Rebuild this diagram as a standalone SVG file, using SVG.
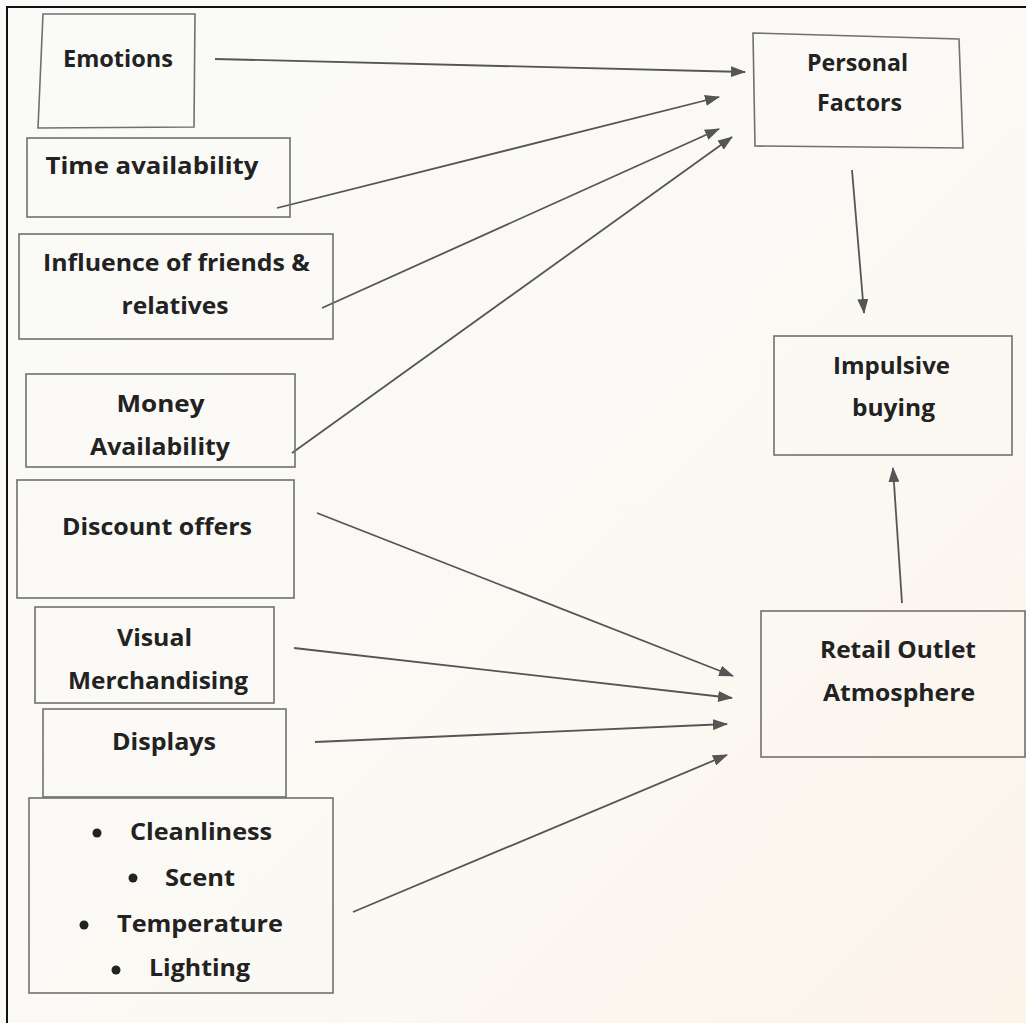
<svg xmlns="http://www.w3.org/2000/svg" width="1026" height="1023" viewBox="0 0 1026 1023">
  <defs>
    <linearGradient id="paper" x1="0" y1="0" x2="1" y2="1">
      <stop offset="0" stop-color="#fafaf8"/>
      <stop offset="0.6" stop-color="#fbf9f4"/>
      <stop offset="1" stop-color="#fcf3e9"/>
    </linearGradient>
    <marker id="head" markerUnits="userSpaceOnUse" markerWidth="15" markerHeight="11" refX="14" refY="5.5" orient="auto">
      <path d="M0,0 L15,5.5 L0,11 Z" fill="#555"/>
    </marker>
    <style>
      .box { fill: none; stroke: #707070; stroke-width: 1.6; }
      .lbl { font-family: "Open Sans", Lato, "Liberation Sans", sans-serif; font-weight: 700; font-size: 24px; fill: #222; text-anchor: middle; }
      .link { stroke: #555; stroke-width: 1.8; fill: none; marker-end: url(#head); }
      .dot { fill: #222; }
    </style>
  </defs>

  <!-- page -->
  <rect x="0" y="0" width="1026" height="1023" fill="url(#paper)"/>
  <path d="M7,1023 V7 H1026" fill="none" stroke="#111" stroke-width="2"/>

  <!-- connectors -->
  <g id="connectors">
    <line class="link" x1="215" y1="59" x2="745" y2="72"/>
    <line class="link" x1="277" y1="208" x2="719" y2="97"/>
    <line class="link" x1="322" y1="308" x2="719" y2="129"/>
    <line class="link" x1="292" y1="453" x2="732" y2="137"/>
    <line class="link" x1="852" y1="170" x2="864" y2="313"/>
    <line class="link" x1="902" y1="603" x2="893" y2="468"/>
    <line class="link" x1="317" y1="513" x2="733" y2="676"/>
    <line class="link" x1="294" y1="648" x2="732" y2="698"/>
    <line class="link" x1="315" y1="742" x2="727" y2="724"/>
    <line class="link" x1="353" y1="912" x2="727" y2="755"/>
  </g>

  <!-- left column -->
  <g id="emotions">
    <path class="box" d="M43,14 L195,14 L194,127 L38,128 Z"/>
    <text class="lbl" x="118" y="67" textLength="110" lengthAdjust="spacingAndGlyphs">Emotions</text>
  </g>

  <g id="time-availability">
    <rect class="box" x="27" y="138" width="263" height="79"/>
    <text class="lbl" x="152" y="174" textLength="213" lengthAdjust="spacingAndGlyphs">Time availability</text>
  </g>

  <g id="influence">
    <rect class="box" x="19" y="234" width="314" height="105"/>
    <text class="lbl" x="176.5" y="271" textLength="267" lengthAdjust="spacingAndGlyphs">Influence of friends &amp;</text>
    <text class="lbl" x="175" y="314" textLength="107" lengthAdjust="spacingAndGlyphs">relatives</text>
  </g>

  <g id="money-availability">
    <rect class="box" x="26" y="374" width="269" height="93"/>
    <text class="lbl" x="160.5" y="412" textLength="88" lengthAdjust="spacingAndGlyphs">Money</text>
    <text class="lbl" x="160" y="455" textLength="140" lengthAdjust="spacingAndGlyphs">Availability</text>
  </g>

  <g id="discount-offers">
    <rect class="box" x="17" y="480" width="277" height="118"/>
    <text class="lbl" x="157" y="535" textLength="190" lengthAdjust="spacingAndGlyphs">Discount offers</text>
  </g>

  <g id="visual-merchandising">
    <rect class="box" x="35" y="607" width="239" height="96"/>
    <text class="lbl" x="154.5" y="646" textLength="75" lengthAdjust="spacingAndGlyphs">Visual</text>
    <text class="lbl" x="158" y="689" textLength="180" lengthAdjust="spacingAndGlyphs">Merchandising</text>
  </g>

  <g id="displays">
    <rect class="box" x="43" y="709" width="243" height="88"/>
    <text class="lbl" x="164" y="750" textLength="104" lengthAdjust="spacingAndGlyphs">Displays</text>
  </g>

  <g id="store-conditions">
    <rect class="box" x="29" y="798" width="304" height="195"/>
    <circle class="dot" cx="97" cy="833" r="4.5"/>
    <text class="lbl" x="201" y="840" textLength="142" lengthAdjust="spacingAndGlyphs">Cleanliness</text>
    <circle class="dot" cx="133" cy="878" r="4.5"/>
    <text class="lbl" x="200" y="886" textLength="70" lengthAdjust="spacingAndGlyphs">Scent</text>
    <circle class="dot" cx="84" cy="925" r="4.5"/>
    <text class="lbl" x="200" y="932" textLength="166" lengthAdjust="spacingAndGlyphs">Temperature</text>
    <circle class="dot" cx="116" cy="970" r="4.5"/>
    <text class="lbl" x="199.5" y="976" textLength="101" lengthAdjust="spacingAndGlyphs">Lighting</text>
  </g>

  <!-- right column -->
  <g id="personal-factors">
    <path class="box" d="M753,33 L959,39 L963,148 L755,146 Z"/>
    <text class="lbl" x="857.5" y="71" textLength="101" lengthAdjust="spacingAndGlyphs">Personal</text>
    <text class="lbl" x="859.5" y="111" textLength="85" lengthAdjust="spacingAndGlyphs">Factors</text>
  </g>

  <g id="impulsive-buying">
    <rect class="box" x="774" y="336" width="238" height="119"/>
    <text class="lbl" x="891.5" y="374" textLength="117" lengthAdjust="spacingAndGlyphs">Impulsive</text>
    <text class="lbl" x="893.5" y="416" textLength="83" lengthAdjust="spacingAndGlyphs">buying</text>
  </g>

  <g id="retail-outlet-atmosphere">
    <rect class="box" x="761" y="611" width="264" height="146"/>
    <text class="lbl" x="898" y="658" textLength="156" lengthAdjust="spacingAndGlyphs">Retail Outlet</text>
    <text class="lbl" x="899" y="701" textLength="152" lengthAdjust="spacingAndGlyphs">Atmosphere</text>
  </g>
</svg>
